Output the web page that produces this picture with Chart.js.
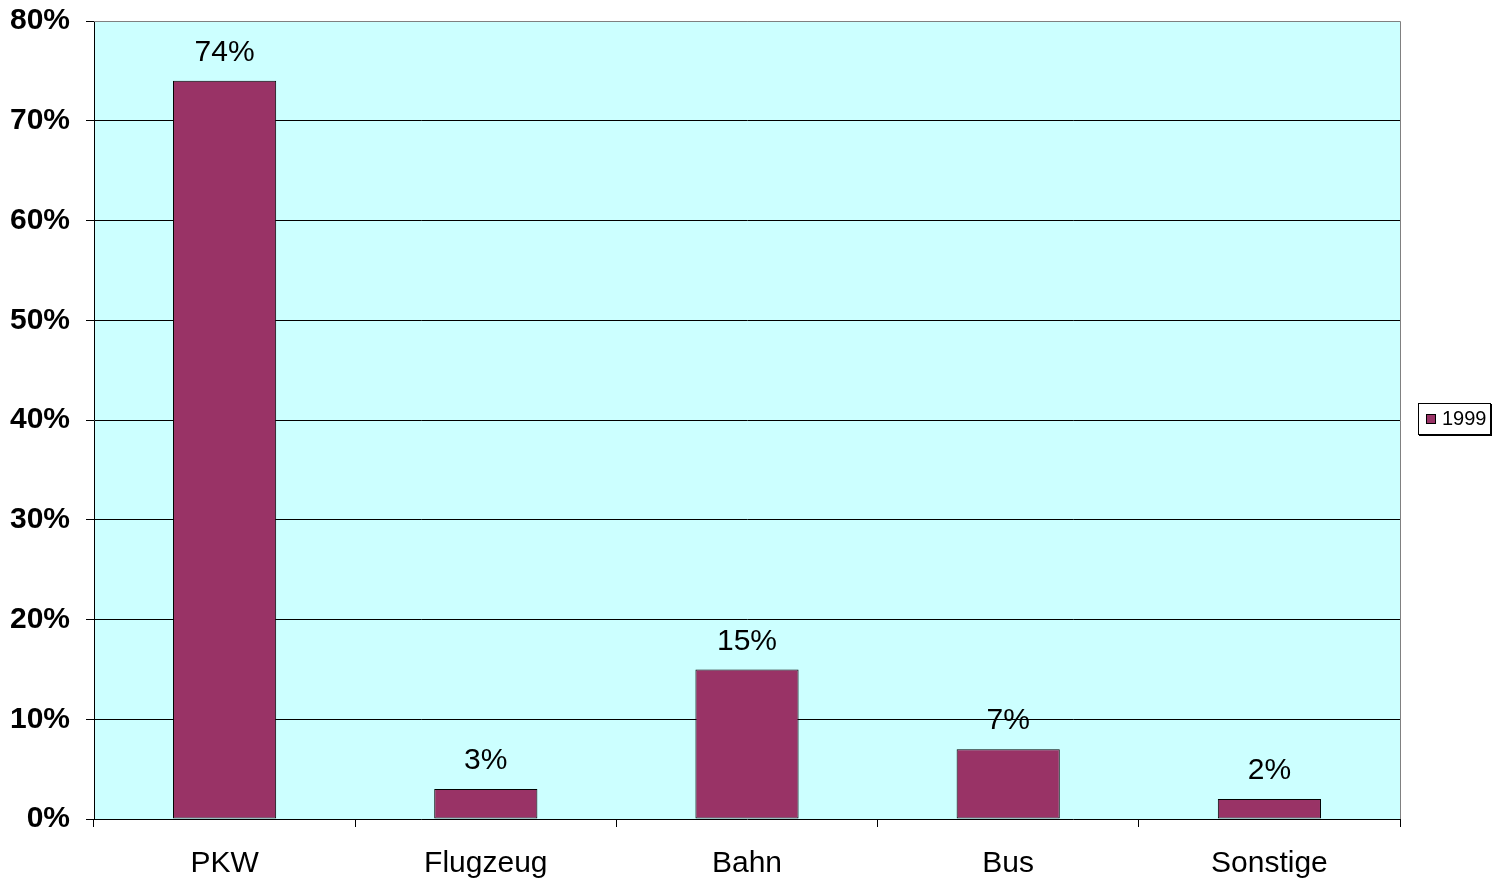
<!DOCTYPE html>
<html>
<head>
<meta charset="utf-8">
<script src="https://cdn.jsdelivr.net/npm/chart.js@4/dist/chart.umd.min.js"></script>
<style>
  html, body { margin: 0; padding: 0; background: #fff; }
  #wrap { width: 1493px; height: 880px; position: relative; }
</style>
</head>
<body>
<div id="wrap"><canvas id="verkehrChart"></canvas></div>
<script>
const categories = ['PKW', 'Flugzeug', 'Bahn', 'Bus', 'Sonstige'];
const values1999 = [74, 3, 15, 7, 2];
const seriesLabel = '1999';
const yTicks = [0, 10, 20, 30, 40, 50, 60, 70, 80];

const plotBackground = {
    id: 'plotBackground',
    beforeDraw(chart) {
        const a = chart.chartArea;
        const ctx = chart.ctx;
        ctx.save();
        ctx.fillStyle = '#CCFFFF';
        ctx.fillRect(a.left, a.top, a.right - a.left, a.bottom - a.top);
        ctx.restore();
    },
    afterDraw(chart) {
        const a = chart.chartArea;
        const ctx = chart.ctx;
        ctx.save();
        ctx.strokeStyle = '#808080';
        ctx.lineWidth = 1;
        ctx.beginPath();
        ctx.moveTo(a.left, a.top + 0.5);
        ctx.lineTo(a.right + 0.5, a.top + 0.5);
        ctx.lineTo(a.right + 0.5, a.bottom);
        ctx.stroke();
        ctx.restore();
    }
};

const valueLabels = {
    id: 'valueLabels',
    afterDatasetsDraw(chart) {
        const ctx = chart.ctx;
        const meta = chart.getDatasetMeta(0);
        ctx.save();
        ctx.fillStyle = '#000';
        ctx.font = '30px "Liberation Sans", Arial, sans-serif';
        ctx.textAlign = 'center';
        ctx.textBaseline = 'middle';
        meta.data.forEach((bar, i) => {
            ctx.fillText(values1999[i] + '%', bar.x, bar.y - 28);
        });
        ctx.restore();
    }
};

const boxLegend = {
    id: 'boxLegend',
    afterDraw(chart) {
        const ctx = chart.ctx;
        const x = 1418, y = 403, w = 72, h = 31;
        ctx.save();
        ctx.fillStyle = '#fff';
        ctx.fillRect(x, y, w, h);
        ctx.strokeStyle = '#000';
        ctx.lineWidth = 1;
        ctx.strokeRect(x + 0.5, y + 0.5, w, h);
        ctx.lineWidth = 2;
        ctx.beginPath();
        ctx.moveTo(x + 1, y + h + 1);
        ctx.lineTo(x + w + 1, y + h + 1);
        ctx.lineTo(x + w + 1, y + 1);
        ctx.stroke();
        ctx.fillStyle = '#993366';
        ctx.fillRect(x + 8, y + 11, 10, 10);
        ctx.lineWidth = 1;
        ctx.strokeRect(x + 8.5, y + 11.5, 9, 9);
        ctx.fillStyle = '#000';
        ctx.font = '20px "Liberation Sans", Arial, sans-serif';
        ctx.textAlign = 'left';
        ctx.textBaseline = 'middle';
        ctx.fillText(chart.data.datasets[0].label, x + 24, y + h / 2 + 1);
        ctx.restore();
    }
};

const ctx = document.getElementById('verkehrChart').getContext('2d');
new Chart(ctx, {
    type: 'bar',
    plugins: [plotBackground, valueLabels, boxLegend],
    data: {
        labels: categories,
        datasets: [{
            label: seriesLabel,
            data: values1999,
            backgroundColor: '#993366',
            borderColor: '#000',
            borderWidth: 1,
            borderSkipped: false,
            barPercentage: 0.395,
            categoryPercentage: 1
        }]
    },
    options: {
        responsive: true,
        maintainAspectRatio: false,
        animation: false,
        layout: {
            padding: { left: 0, right: 93, top: 21, bottom: 0 }
        },
        scales: {
            x: {
                offset: true,
                grid: {
                    display: true,
                    offset: true,
                    drawOnChartArea: false,
                    drawTicks: true,
                    tickLength: 8,
                    color: '#000'
                },
                border: { display: false },
                ticks: {
                    color: '#000',
                    padding: 19,
                    font: { family: '"Liberation Sans", Arial, sans-serif', size: 30 }
                },
                afterFit(scale) { scale.height = 61; }
            },
            y: {
                min: 0,
                max: 80,
                afterBuildTicks(scale) {
                    scale.ticks = yTicks.map(v => ({ value: v }));
                },
                grid: {
                    color(c) { return c.tick && c.tick.value === 80 ? '#808080' : '#000'; },
                    tickColor: '#000',
                    tickLength: 8,
                    drawTicks: true
                },
                border: { display: true, color: '#000', width: 1 },
                ticks: {
                    color: '#000',
                    padding: 16,
                    font: { family: '"Liberation Sans", Arial, sans-serif', size: 30, weight: 'bold' },
                    callback(v) { return v + '%'; }
                },
                afterFit(scale) {
                    scale.width = 94;
                    scale.paddingTop = 0;
                    scale.paddingBottom = 0;
                }
            }
        },
        plugins: {
            legend: { display: false },
            tooltip: { enabled: false }
        }
    }
});
</script>
</body>
</html>
